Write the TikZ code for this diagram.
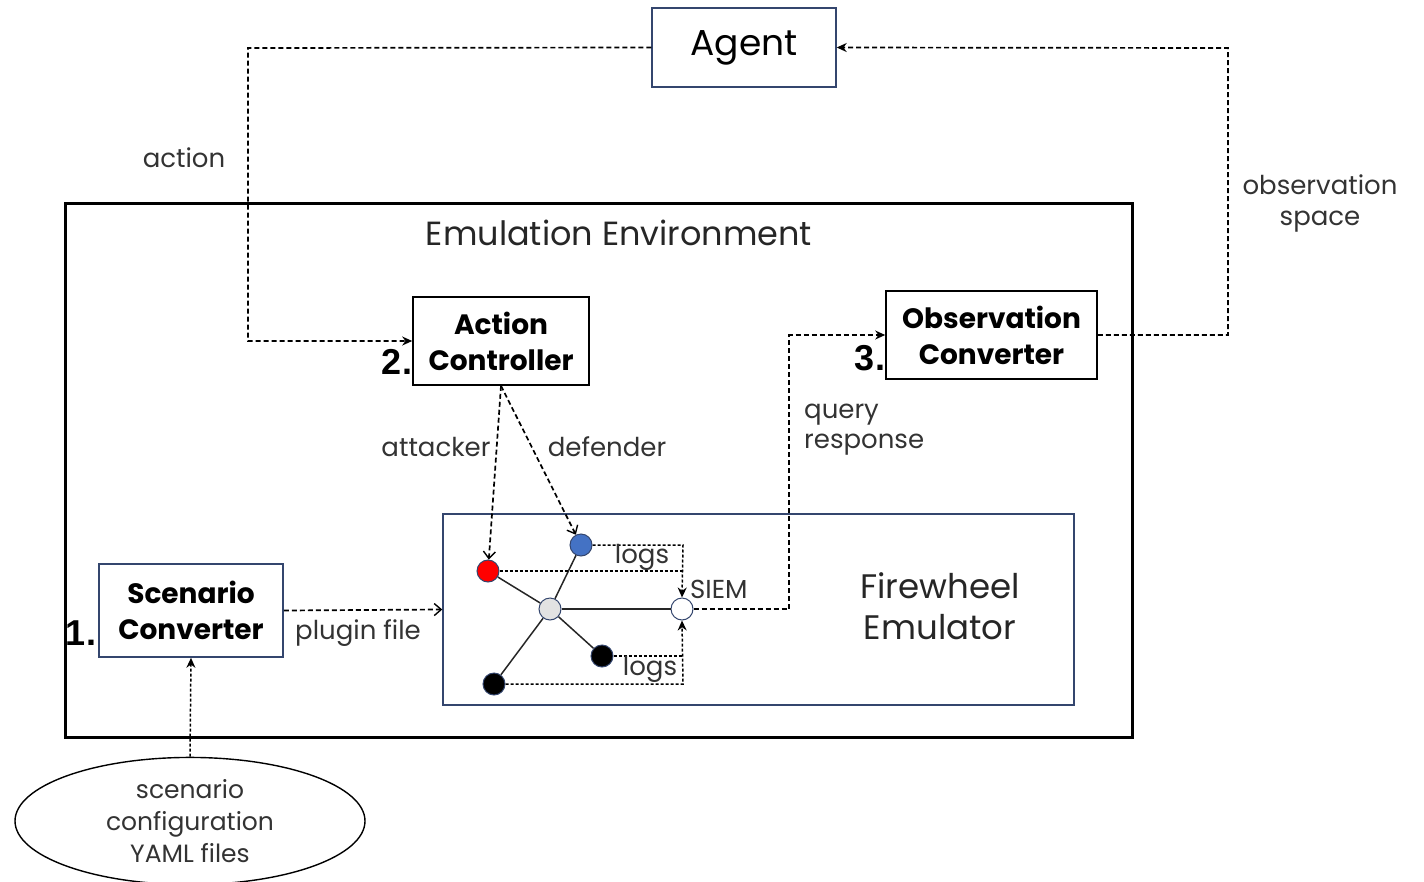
\documentclass[tikz,border=0pt]{standalone}
\usepackage{fontspec}
\setmainfont{Poppins}
\newfontfamily\numfont{Liberation Sans}
\usetikzlibrary{arrows.meta,shapes.geometric}
\definecolor{navy}{HTML}{34466E}
\definecolor{lbl}{HTML}{333333}
\definecolor{nodeblue}{HTML}{4472C4}
\definecolor{nodegrey}{HTML}{E2E2E2}
\begin{document}
\begin{tikzpicture}[x=1pt,y=-1pt,
  lbltxt/.style={font=\fontsize{26}{31}\selectfont, text=lbl, inner sep=0pt},
  bigtxt/.style={font=\fontsize{33.5}{38}\selectfont, text=black!85, inner sep=0pt},
  boldbox/.style={draw=black, line width=1.6pt, align=center,
    font=\bfseries\fontsize{28}{36}\selectfont},
  numtxt/.style={font=\numfont\bfseries\fontsize{36}{36}\selectfont, inner sep=0pt},
  flow/.style={line width=1.7pt, dash pattern=on 5pt off 3pt},
  fine/.style={line width=1.5pt, dash pattern=on 3pt off 2pt},
  solidarrow/.style={-{Stealth[length=10pt,width=9pt]}},
  openarrow/.style={-{Straight Barb[length=7pt,width=12pt,line width=1.4pt]}},
  host/.style={circle, draw=navy, line width=1pt, minimum size=22pt, inner sep=0pt},
  link/.style={line width=1.5pt, draw=black!85}
]
\useasboundingbox (0,0) rectangle (1424,881);

% containers
\node[draw=black, line width=3pt, minimum width=1067pt, minimum height=534pt] (env) at (598.5,470) {};
\node[bigtxt] (envlabel) at (619,233) {Emulation Environment};
\node[draw=navy, line width=1.4pt, minimum width=631pt, minimum height=191pt] (fw) at (758.5,609.5) {};
\node[bigtxt, align=center, font=\fontsize{34}{41}\selectfont] (fwlabel) at (940,606) {Firewheel\\Emulator};

% main blocks
\node[draw=navy, line width=1.4pt, minimum width=184pt, minimum height=79pt, font=\fontsize{36}{40}\selectfont] (agent) at (744,47.5) {Agent};
\node[boldbox, minimum width=176pt, minimum height=88pt] (ac) at (501,341) {Action\\Controller};
\node[boldbox, minimum width=211pt, minimum height=88pt] (oc) at (991.5,335) {Observation\\Converter};
\node[boldbox, draw=navy, minimum width=184pt, minimum height=93pt] (sc) at (191,610.5) {Scenario\\Converter};
\node[draw=black, line width=1.4pt, ellipse, minimum width=350pt, minimum height=121pt,
  align=center, font=\fontsize{25}{32}\selectfont, text=lbl] (yaml) at (190,821) {scenario\\configuration\\YAML files};

% step numbers
\node[numtxt] (n1) at (81,633) {1.};
\node[numtxt] (n2) at (397,362) {2.};
\node[numtxt] (n3) at (870,358) {3.};

% emulated network
\node[host, fill=nodeblue] (blue) at (581,545) {};
\node[host, fill=red] (red) at (488,571) {};
\node[host, fill=nodegrey] (hub) at (550,609) {};
\node[host, fill=white] (siem) at (682,609) {};
\node[host, fill=black] (b1) at (602,656) {};
\node[host, fill=black] (b2) at (494,684) {};
\draw[link] (hub) -- (red);
\draw[link] (hub) -- (blue);
\draw[link] (hub) -- (siem);
\draw[link] (hub) -- (b1);
\draw[link] (hub) -- (b2);

% log forwarding to the SIEM
\coordinate (logtop) at (683,545);
\coordinate (logred) at (683,571);
\coordinate (logbot) at (683,684);
\coordinate (logb1) at (683,656);
\draw[fine, solidarrow] (blue.east) -- (logtop) -- (siem.north);
\draw[fine] (red.east) -- (logred);
\draw[fine, solidarrow] (b2.east) -- (logbot) -- (siem.south);
\draw[fine] (b1.east) -- (logb1);
\node[lbltxt] (logs1) at (642,557) {logs};
\node[lbltxt] (logs2) at (650,669) {logs};
\node[lbltxt, anchor=west] (siemlbl) at (690,589) {SIEM};

% agent loop
\coordinate (actturn) at (248,48);
\coordinate (obsturn) at (1228,48);
\coordinate (qturn) at (789,609);
\draw[flow, solidarrow] (agent.west) -- (actturn) |- (ac.west);
\draw[flow, solidarrow] (oc.east) -| (obsturn) -- (agent.east);
\draw[flow, solidarrow] (siem.east) -- (qturn) |- (oc.west);
\draw[flow, openarrow] (ac.south) -- (red);
\draw[flow, openarrow] (ac.south) -- (blue);
\draw[flow, openarrow] (sc.east) -- (fw.west);
\draw[fine, solidarrow] (yaml.north) -- (sc.south);

% connector labels
\node[lbltxt] (actionlbl) at (184,158) {action};
\node[lbltxt, align=center, font=\fontsize{26}{31}\selectfont] (obslbl) at (1320,203) {observation\\space};
\node[lbltxt, align=left, anchor=north west, font=\fontsize{26}{30}\selectfont] (qlbl) at (804,404) {query\\response};
\node[lbltxt] (attlbl) at (436,447) {attacker};
\node[lbltxt] (deflbl) at (607,447) {defender};
\node[lbltxt] (pluglbl) at (358,633) {plugin file};
\end{tikzpicture}
\end{document}
